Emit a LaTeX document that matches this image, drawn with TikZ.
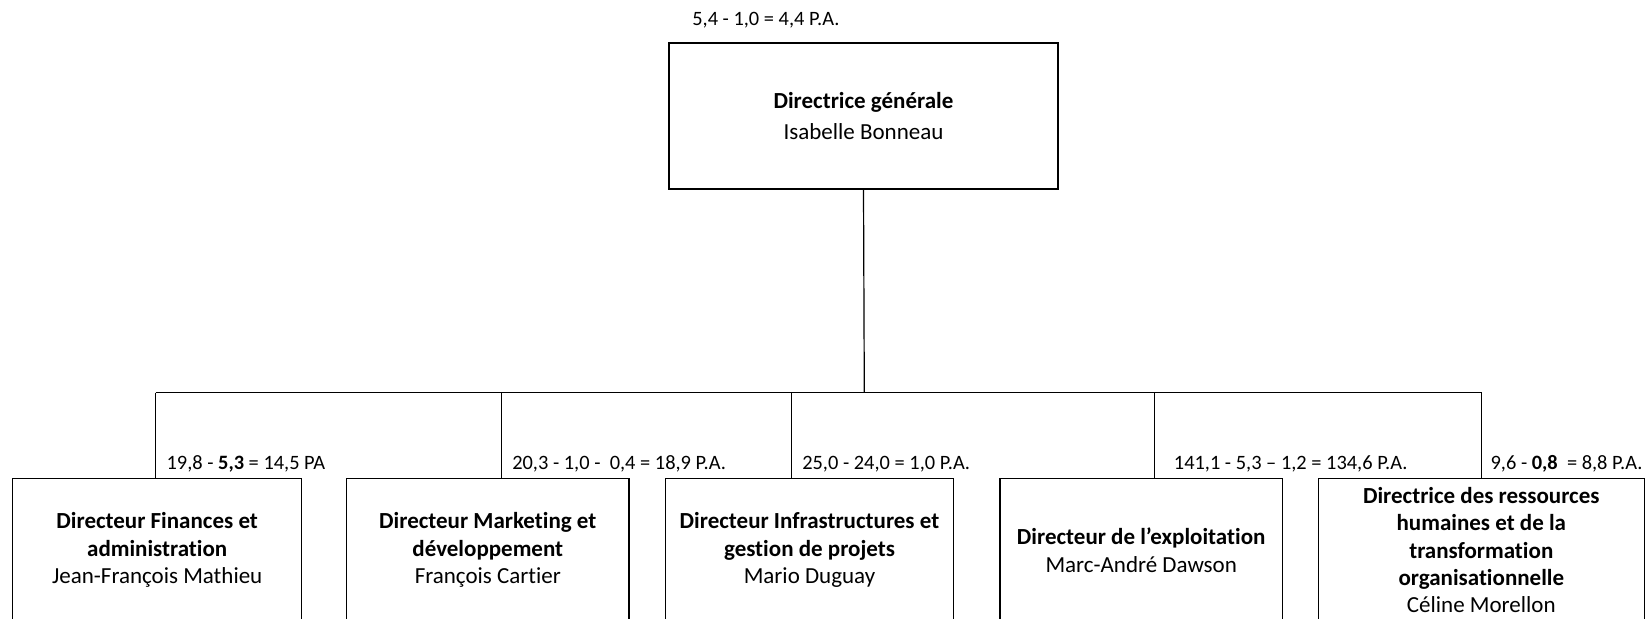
\documentclass[tikz,border=0pt]{standalone}
\usepackage{fontspec}
\setmainfont{Carlito}[Ligatures=CommonOff]
\usetikzlibrary{positioning}

\tikzset{
    orgbox/.style={draw, line width=0.6pt, fill=white, align=center, anchor=north,
        inner sep=0pt, font=\fontsize{11.5}{13.7}\selectfont},
    palabel/.style={anchor=base west, inner sep=0pt, font=\fontsize{10.2}{12}\selectfont},
}

\begin{document}
\begin{tikzpicture}[x=0.5pt, y=-0.5pt, line width=0.6pt]
    \useasboundingbox (0,0) rectangle (1649,619);

    \node[orgbox, minimum width=194.5pt, minimum height=73pt] (dg) at (863.5,42.5)
        {\textbf{Directrice générale}\\[2pt]Isabelle Bonneau};
    \node[palabel] (padg) at (691.7,26) {5,4 - 1,0 = 4,4 P.A.};

    \node[orgbox, minimum width=144.5pt, minimum height=71.2pt] (fin) at (157.2,478.3)
        {\textbf{Directeur Finances et}\\\textbf{administration}\\Jean-François Mathieu};
    \node[orgbox, minimum width=141.2pt, minimum height=71.2pt] (mkt) at (487.8,478.3)
        {\textbf{Directeur Marketing et}\\\textbf{développement}\\François Cartier};
    \node[orgbox, minimum width=143.8pt, minimum height=71.2pt] (infra) at (809.5,478.3)
        {\textbf{Directeur Infrastructures et}\\\textbf{gestion de projets}\\Mario Duguay};
    \node[orgbox, minimum width=141.2pt, minimum height=71.2pt] (expl) at (1141.2,478.3)
        {\textbf{Directeur de l’exploitation}\\Marc-André Dawson};
    \node[orgbox, minimum width=163pt, minimum height=71.2pt] (rh) at (1481.3,478.3)
        {\textbf{Directrice des ressources}\\\textbf{humaines et de la}\\\textbf{transformation}\\\textbf{organisationnelle}\\Céline Morellon};

    \coordinate (bus) at (864.3,392.7);
    \coordinate (tfin) at (155.7,392.7);
    \coordinate (tmkt) at (501.7,392.7);
    \coordinate (tinfra) at (791.7,392.7);
    \coordinate (texpl) at (1154.3,392.7);
    \coordinate (trh) at (1481.7,392.7);

    \draw (dg.south) -- (bus);
    \draw (tfin) -- (trh);
    \foreach \b in {fin, mkt, infra, expl, rh}
        \draw (t\b) -- (t\b |- \b.north);

    \node[palabel] (pafin) at (166,469.3) {19,8 - \textbf{5,3} = 14,5 PA};
    \node[palabel] (pamkt) at (511.7,469.3) {20,3 - 1,0 -\ \ 0,4 = 18,9 P.A.};
    \node[palabel] (painfra) at (801.7,469.3) {25,0 - 24,0 = 1,0 P.A.};
    \node[palabel] (paexpl) at (1173.3,469.3) {141,1 - 5,3 -- 1,2 = 134,6 P.A.};
    \node[palabel] (parh) at (1490,469.3) {9,6 - \textbf{0,8}\ \ = 8,8 P.A.};
\end{tikzpicture}
\end{document}
